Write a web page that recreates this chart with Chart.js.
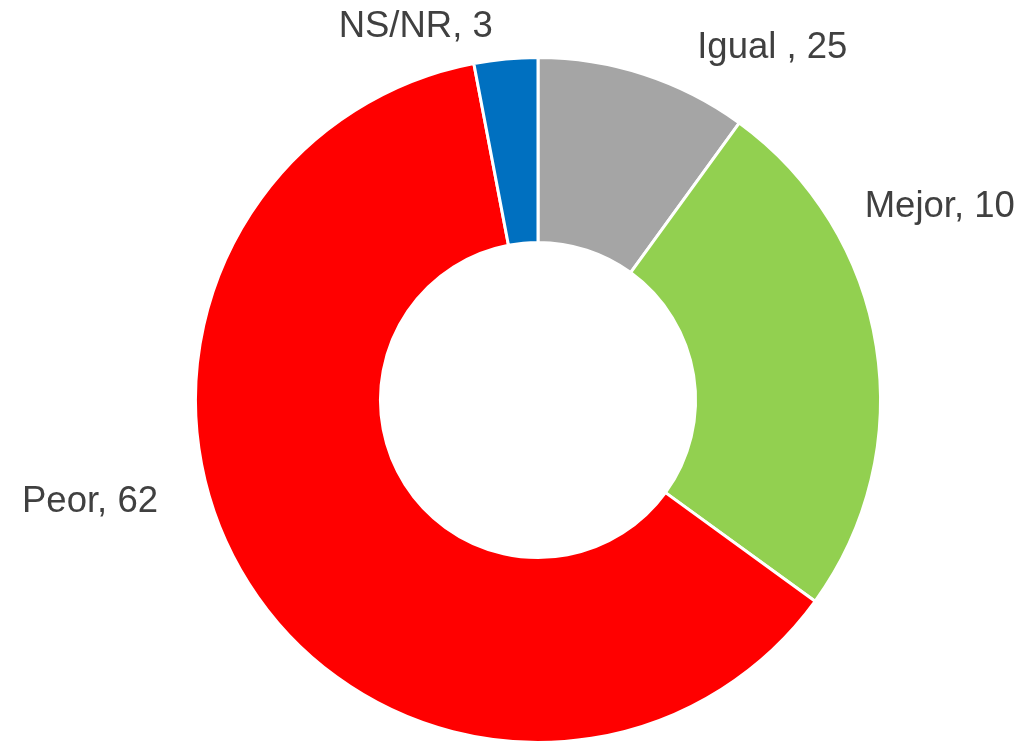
<!DOCTYPE html>
<html>
<head>
<meta charset="utf-8">
<script src="https://cdn.jsdelivr.net/npm/chart.js@4/dist/chart.umd.min.js"></script>
<style>
  html, body { margin: 0; padding: 0; background: #fff; }
  #wrap { width: 1025px; height: 744px; position: relative; }
</style>
</head>
<body>
<div id="wrap"><canvas id="donutChart"></canvas></div>
<script>
// data (slice order clockwise from 12 o'clock)
const categories = ["Igual", "Mejor", "Peor", "NS/NR"]
const sliceValues = [10, 25, 62, 3]
const labelTexts = ["Igual , 25", "Mejor, 10", "Peor, 62", "NS/NR, 3"]
const sliceColors = ["#A5A5A5", "#92D050", "#FF0000", "#0070C0"]

// where each label sits, relative to the doughnut centre, in units of the outer radius
// (x = text centre, y = baseline)
const labelSpots = [
    [0.684, -1.0],
    [1.173, -0.534],
    [-1.308, 0.327],
    [-0.357, -1.061]
]

const outsideLabels = {
    id: "outsideLabels",
    afterDatasetsDraw(chart) {
        const ctx = chart.ctx
        const arcs = chart.getDatasetMeta(0).data
        ctx.save()
        ctx.font = "36.5px 'Liberation Sans', Arial, sans-serif"
        ctx.fillStyle = "#404040"
        ctx.textAlign = "center"
        ctx.textBaseline = "alphabetic"
        arcs.forEach((arc, i) => {
            const r = arc.outerRadius
            const px = arc.x + labelSpots[i][0] * r
            const py = arc.y + labelSpots[i][1] * r
            ctx.fillText(labelTexts[i], px, py)
        })
        ctx.restore()
    }
}

let CHART = document.getElementById("donutChart")
let donutChart = new Chart(CHART, {
    type: "doughnut",
    data: {
        labels: categories,
        datasets: [
            {
                data: sliceValues,
                backgroundColor: sliceColors,
                borderColor: "#FFFFFF",
                borderWidth: 3,
                hoverOffset: 0
            }
        ]
    },
    options: {
        responsive: true,
        maintainAspectRatio: false,
        animation: false,
        cutout: "46%",
        layout: {
            padding: { top: 56, bottom: -7, left: 190, right: 139 }
        },
        plugins: {
            legend: { display: false },
            tooltip: { enabled: false }
        }
    },
    plugins: [outsideLabels]
})
</script>
</body>
</html>
